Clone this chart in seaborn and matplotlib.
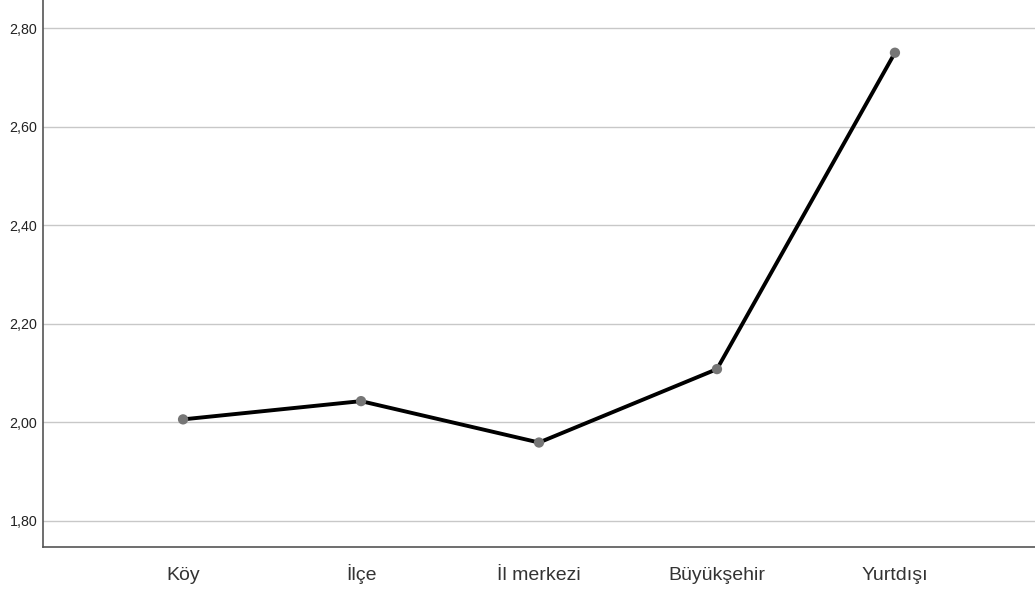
import numpy as np
import pandas as pd
import seaborn as sns
import matplotlib.pyplot as plt
from matplotlib.ticker import FuncFormatter

categories = ['Köy', 'İlçe', 'İl merkezi', 'Büyükşehir', 'Yurtdışı']
means = [2.006, 2.043, 1.959, 2.108, 2.750]
y_ticks = [1.80, 2.00, 2.20, 2.40, 2.60, 2.80]

df = pd.DataFrame({'group': categories, 'mean': means})
df['pos'] = np.arange(len(categories))

sns.set_theme(style="white")
plt.rcParams['font.family'] = ['Liberation Sans', 'DejaVu Sans']

fig = plt.figure(figsize=(10.35, 5.9), dpi=100)
ax = fig.add_axes([43 / 1035, 43 / 590, 1 - 43 / 1035, 1 - 43 / 590])

sns.lineplot(data=df, x='pos', y='mean', color='black', linewidth=2.8, ax=ax, zorder=3)
sns.scatterplot(data=df, x='pos', y='mean', color='#767676', s=55, edgecolor='none', ax=ax, zorder=4)

ax.set_xlim(-0.787, 4.787)
ax.set_ylim(1.747, 2.857)
ax.set_xticks(df['pos'])
ax.set_xticklabels(categories, fontsize=14, color='#333333', va='baseline')
ax.set_yticks(y_ticks)
ax.yaxis.set_major_formatter(FuncFormatter(lambda v, p: f"{v:.2f}".replace('.', ',')))
ax.tick_params(axis='y', labelsize=10.3, colors='#222222', length=0, pad=4)
ax.tick_params(axis='x', length=0, pad=23.5)
ax.grid(axis='y', color='#c8c8c8', linewidth=1.0)
ax.set_axisbelow(True)
ax.set_xlabel('')
ax.set_ylabel('')

for side in ['top', 'right']:
    ax.spines[side].set_visible(False)
for side in ['left', 'bottom']:
    ax.spines[side].set_color('#555555')
    ax.spines[side].set_linewidth(1.2)

fig.savefig('out.png', dpi=100)
plt.close(fig)
